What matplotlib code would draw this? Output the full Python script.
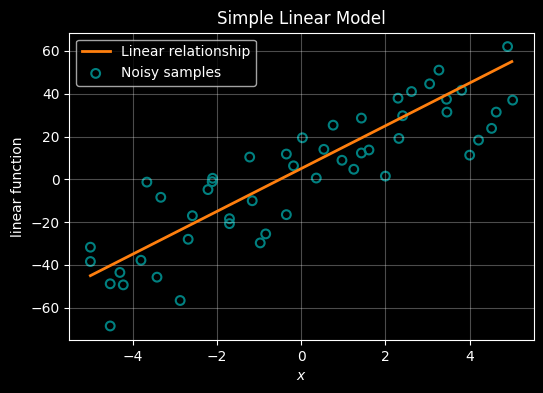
import numpy as np
import matplotlib.pyplot as plt

plt.style.use('dark_background')

# line endpoints
line_x = [-5, 5]
line_y = [-45, 55]

# noisy samples
sample_x = [-5.00, -5.00, -4.53, -4.53, -4.30, -4.22, -3.80, -3.66, -3.33, -3.42,
            -2.87, -2.68, -2.58, -2.21, -2.11, -2.10, -1.70, -1.70, -1.22, -1.16,
            -0.97, -0.84, -0.35, -0.35, -0.18, 0.03, 0.36, 0.54, 0.76, 0.97,
            1.25, 1.43, 1.43, 1.61, 2.00, 2.30, 2.41, 2.32, 2.62, 3.05,
            3.27, 3.45, 3.46, 3.81, 4.00, 4.21, 4.52, 4.63, 4.90, 5.02]
sample_y = [-31.7, -38.4, -68.5, -48.8, -43.5, -49.3, -37.8, -1.3, -8.4, -45.7,
            -56.6, -28.0, -17.0, -4.8, -1.1, 0.5, -18.4, -20.7, 10.4, -10.0,
            -29.7, -25.5, 11.8, -16.5, 6.3, 19.4, 0.6, 14.0, 25.3, 8.9,
            4.7, 28.6, 12.3, 13.7, 1.5, 37.9, 29.7, 19.1, 41.0, 44.6,
            51.0, 37.4, 31.4, 41.6, 11.3, 18.3, 23.8, 31.4, 62.0, 37.0]

fig = plt.figure(figsize=(5.43, 3.93), dpi=100)
ax = fig.add_subplot(111)
fig.subplots_adjust(left=0.1276, right=0.983, top=0.917, bottom=0.135)

ax.plot(line_x, line_y, color='#ff7f0e', lw=2, label='Linear relationship')
ax.scatter(sample_x, sample_y, s=40, facecolors='none', edgecolors='teal',
           linewidths=1.5, label='Noisy samples')

ax.grid(True, alpha=0.3)
ax.set_title('Simple Linear Model')
ax.set_xlabel('$x$')
ax.set_ylabel('linear function')
ax.legend(loc='upper left')

plt.savefig('out.png')
